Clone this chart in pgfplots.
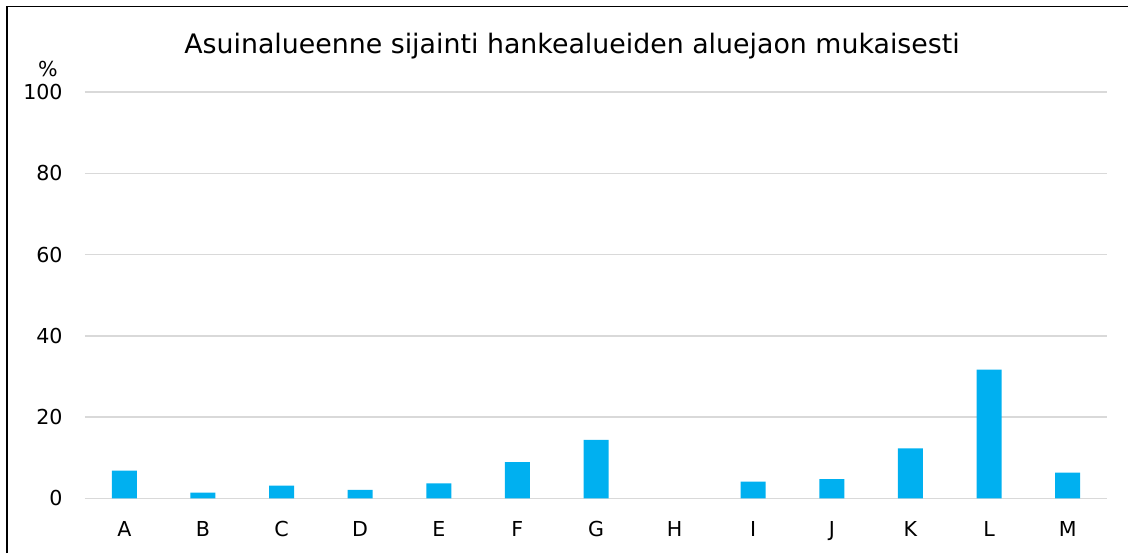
\documentclass[border=0pt]{standalone}
\usepackage{fontspec}
\setmainfont{DejaVu Sans}
\usepackage{pgfplots}
\pgfplotsset{compat=1.18}
\definecolor{barblue}{HTML}{00B0F0}
\definecolor{gridgray}{HTML}{D9D9D9}
\begin{document}
\begin{tikzpicture}
% page = 1128 x 553 px at 0.5pt per px
\useasboundingbox (0,0) rectangle (564pt,276.5pt);
\draw[line width=0.9pt] (3.5pt,0) -- (3.5pt,273.25pt) -- (564pt,273.25pt);
\begin{axis}[
    at={(42.5pt,27.35pt)}, anchor=south west,
    scale only axis, width=511pt, height=203.15pt,
    xmin=-0.5, xmax=12.5, ymin=0, ymax=100,
    ytick={0,20,...,100},
    xtick={0,...,12},
    xticklabels={A,B,C,D,E,F,G,H,I,J,K,L,M},
    ymajorgrids, grid style={gridgray, line width=0.75pt},
    axis line style={draw=none}, tick style={draw=none},
    /pgf/number format/assume math mode=true,
    ticklabel style={font=\fontsize{10.3}{12}\selectfont, inner sep=0pt},
    yticklabel style={anchor=east, xshift=-11pt},
    xticklabel style={anchor=base, yshift=-19.2pt},
    clip=false,
]
% H (x=7) is 0 and is left out so that no sliver is drawn
\addplot[ybar, fill=barblue, draw=none, bar width=12.5pt] coordinates {
    (0,6.8) (1,1.4) (2,3.1) (3,2.1) (4,3.7) (5,8.9) (6,14.4)
    (8,4.1) (9,4.7) (10,12.3) (11,31.7) (12,6.3)
};
\end{axis}
\node[anchor=base, inner sep=0pt, font=\fontsize{13.4}{16}\selectfont] at (286pt,249.85pt)
    {Asuinalueenne sijainti hankealueiden aluejaon mukaisesti};
\node[inner sep=0pt, font=\fontsize{10.3}{12}\selectfont] at (24pt,242pt) {\%};
\end{tikzpicture}
\end{document}
